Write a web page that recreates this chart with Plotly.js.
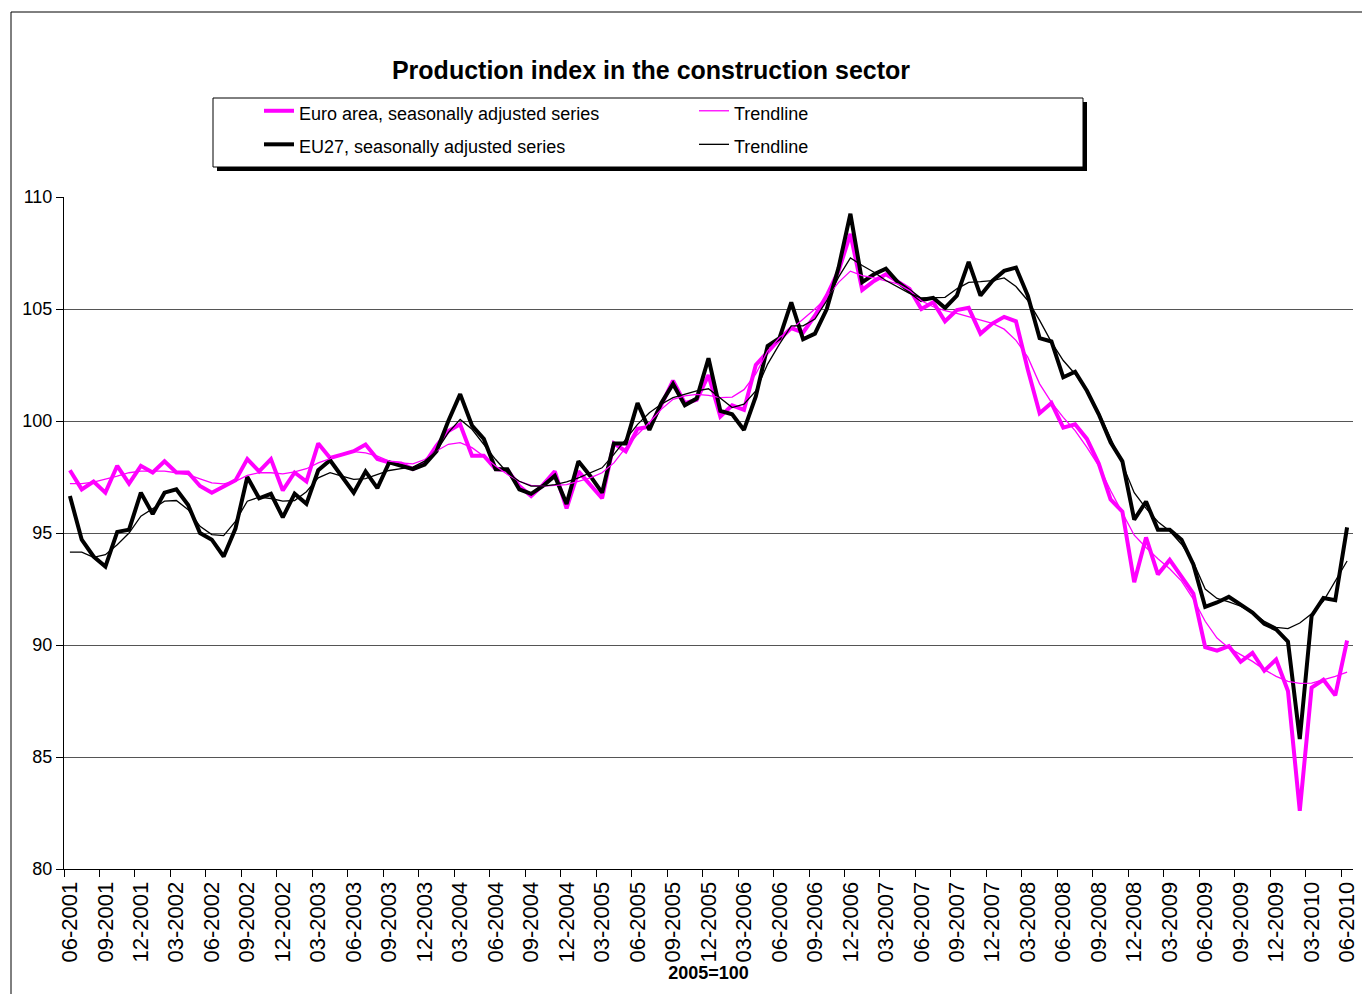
<!DOCTYPE html>
<html>
<head>
<meta charset="utf-8">
<script src="https://cdn.plot.ly/plotly-3.0.1.min.js"></script>
<style>
html,body{margin:0;padding:0;background:#fff;}
#chart{width:1362px;height:994px;}
</style>
</head>
<body>
<div id="chart"></div>
<script>
const months = [
"06-2001","07-2001","08-2001","09-2001","10-2001","11-2001","12-2001","01-2002","02-2002","03-2002","04-2002","05-2002",
"06-2002","07-2002","08-2002","09-2002","10-2002","11-2002","12-2002","01-2003","02-2003","03-2003","04-2003","05-2003",
"06-2003","07-2003","08-2003","09-2003","10-2003","11-2003","12-2003","01-2004","02-2004","03-2004","04-2004","05-2004",
"06-2004","07-2004","08-2004","09-2004","10-2004","11-2004","12-2004","01-2005","02-2005","03-2005","04-2005","05-2005",
"06-2005","07-2005","08-2005","09-2005","10-2005","11-2005","12-2005","01-2006","02-2006","03-2006","04-2006","05-2006",
"06-2006","07-2006","08-2006","09-2006","10-2006","11-2006","12-2006","01-2007","02-2007","03-2007","04-2007","05-2007",
"06-2007","07-2007","08-2007","09-2007","10-2007","11-2007","12-2007","01-2008","02-2008","03-2008","04-2008","05-2008",
"06-2008","07-2008","08-2008","09-2008","10-2008","11-2008","12-2008","01-2009","02-2009","03-2009","04-2009","05-2009",
"06-2009","07-2009","08-2009","09-2009","10-2009","11-2009","12-2009","01-2010","02-2010","03-2010","04-2010","05-2010",
"06-2010"];

const tickLabels = ["06-2001","09-2001","12-2001","03-2002","06-2002","09-2002","12-2002","03-2003","06-2003","09-2003",
"12-2003","03-2004","06-2004","09-2004","12-2004","03-2005","06-2005","09-2005","12-2005","03-2006","06-2006","09-2006",
"12-2006","03-2007","06-2007","09-2007","12-2007","03-2008","06-2008","09-2008","12-2008","03-2009","06-2009","09-2009",
"12-2009","03-2010","06-2010"];

const euroSA = [
97.8,96.95,97.3,96.8,98.0,97.2,98.0,97.7,98.2,97.7,97.7,97.1,
96.8,97.1,97.35,98.3,97.75,98.3,96.9,97.7,97.3,99.0,98.35,98.5,
98.65,98.95,98.3,98.15,98.1,97.85,98.1,98.9,99.55,99.85,98.45,98.45,
97.85,97.8,97.1,96.65,97.15,97.75,96.1,97.75,97.15,96.55,99.0,98.65,
99.65,99.75,100.7,101.8,100.8,100.95,102.05,100.2,100.7,100.5,102.5,103.1,
103.65,104.15,103.95,104.7,105.6,106.7,108.35,105.85,106.25,106.55,106.2,105.9,
105.0,105.3,104.45,104.95,105.05,103.9,104.35,104.65,104.45,102.3,100.35,100.8,
99.7,99.85,99.2,98.1,96.5,95.95,92.8,94.8,93.15,93.8,93.05,92.3,
89.9,89.75,89.95,89.25,89.65,88.85,89.35,87.95,82.6,88.1,88.45,87.75,
90.2];

const eu27SA = [
96.65,94.7,93.95,93.5,95.05,95.15,96.8,95.85,96.8,96.95,96.25,95.0,
94.7,93.95,95.2,97.5,96.55,96.75,95.7,96.75,96.3,97.8,98.25,97.55,
96.8,97.75,97.0,98.15,98.0,97.85,98.05,98.65,100.0,101.2,99.8,99.2,
97.85,97.85,96.95,96.75,97.1,97.55,96.3,98.2,97.55,96.8,99.0,99.0,
100.8,99.6,100.8,101.65,100.7,101.0,102.8,100.45,100.3,99.6,101.1,103.35,
103.7,105.3,103.65,103.9,105.0,106.85,109.25,106.2,106.55,106.8,106.2,105.8,
105.4,105.5,105.05,105.6,107.1,105.6,106.25,106.7,106.85,105.6,103.7,103.55,
101.95,102.2,101.35,100.3,99.05,98.2,95.6,96.4,95.15,95.15,94.7,93.6,
91.7,91.9,92.15,91.8,91.45,90.95,90.7,90.15,85.8,91.3,92.1,92.0,
95.25];

const euroTrend = [
97.2,97.2,97.27,97.39,97.54,97.69,97.76,97.76,97.76,97.69,97.61,97.42,
97.24,97.19,97.31,97.57,97.69,97.69,97.64,97.73,97.87,98.13,98.31,98.5,
98.63,98.58,98.43,98.21,98.13,98.09,98.28,98.66,98.96,99.03,98.81,98.43,
97.99,97.61,97.31,97.13,97.09,97.12,97.16,97.31,97.46,97.69,98.13,98.81,
99.4,99.93,100.52,100.97,101.12,101.19,101.14,101.04,101.07,101.4,102.1,103.13,
103.73,104.1,104.55,105.0,105.52,106.19,106.69,106.49,106.39,106.27,106.12,105.82,
105.37,105.1,104.93,104.8,104.66,104.51,104.36,104.1,103.6,102.85,101.66,100.83,
100.16,99.57,98.82,98.0,96.9,95.9,94.9,94.35,93.85,93.4,92.85,92.05,
91.06,90.31,89.87,89.57,89.27,88.9,88.6,88.38,88.29,88.3,88.45,88.6,
88.79];

const eu27Trend = [
94.15,94.15,93.91,94.03,94.48,95.0,95.75,96.09,96.42,96.45,96.04,95.3,
94.93,94.88,95.52,96.42,96.6,96.54,96.42,96.45,96.84,97.46,97.69,97.54,
97.39,97.43,97.61,97.79,97.87,97.94,98.21,98.66,99.48,100.07,99.63,98.96,
98.28,97.69,97.31,97.09,97.09,97.16,97.28,97.46,97.69,97.91,98.51,99.18,
99.85,100.37,100.75,101.04,101.19,101.34,101.44,101.04,100.6,100.75,101.34,102.54,
103.43,104.25,104.25,104.55,105.37,106.42,107.28,106.94,106.64,106.27,105.97,105.7,
105.49,105.49,105.52,105.9,106.19,106.22,106.27,106.39,106.0,105.38,104.49,103.52,
102.7,102.1,101.36,100.39,99.27,98.08,96.8,96.1,95.5,95.09,94.5,93.7,
92.5,92.08,91.93,91.73,91.43,91.06,90.79,90.73,90.98,91.39,91.96,92.85,
93.75];

const seriesNames = ["Euro area, seasonally adjusted series","Trendline","EU27, seasonally adjusted series","Trendline"];

const xIdx = months.map((m, i) => i);
const tickIdx = tickLabels.map(l => months.indexOf(l));
const boundaryTicks = tickIdx.map(i => i - 0.5);

const FONT = "Liberation Sans, Arial, sans-serif";
const lg = t => '<span style="font-size:18px">' + t + '</span>';

const traces = [
  {x: xIdx, y: euroSA, name: lg(seriesNames[0]), type: 'scatter', mode: 'lines',
   line: {color: '#FF00FF', width: 4}, legendrank: 1},
  {x: xIdx, y: eu27SA, name: lg(seriesNames[2]), type: 'scatter', mode: 'lines',
   line: {color: '#000000', width: 4}, legendrank: 3},
  {x: xIdx, y: euroTrend, name: lg(seriesNames[1]), type: 'scatter', mode: 'lines',
   line: {color: '#FF00FF', width: 1.3}, legendrank: 2},
  {x: xIdx, y: eu27Trend, name: lg(seriesNames[3]), type: 'scatter', mode: 'lines',
   line: {color: '#000000', width: 1.3}, legendrank: 4}
];

const L = 64, R = 9, T = 197, B = 125, W = 1362, H = 994;
const pw = W - L - R, ph = H - T - B;
const px2x = p => (p - L) / pw;
const py2y = p => (H - B - p) / ph;

const layout = {
  width: W, height: H,
  margin: {l: L, r: R, t: T, b: B, autoexpand: false},
  paper_bgcolor: '#fff', plot_bgcolor: '#fff',
  font: {family: FONT, color: '#000', size: 17},
  title: {text: '<b>Production index in the construction sector</b>', font: {family: FONT, size: 25, color: '#000'},
          xref: 'container', yref: 'container', x: 651 / W, y: 1 - 70 / H, xanchor: 'center', yanchor: 'middle'},
  showlegend: true,
  legend: {orientation: 'h', x: px2x(259), y: py2y(89), xanchor: 'left', yanchor: 'top',
           bgcolor: 'rgba(0,0,0,0)', borderwidth: 0, entrywidth: 390, itemwidth: 30,
           font: {family: FONT, size: 23.5, color: '#000'}, traceorder: 'normal'},
  xaxis: {range: [-0.5, 108.5], tickmode: 'array', tickvals: tickIdx, ticktext: tickLabels,
          tickangle: -90, ticks: '', showgrid: false, zeroline: false,
          showline: true, linecolor: '#000', linewidth: 1, ticklabelstandoff: 3,
          tickfont: {family: FONT, size: 22, color: '#000'},
          minor: {tickmode: 'array', tickvals: boundaryTicks, ticks: 'outside', ticklen: 7, tickcolor: '#000', tickwidth: 1, showgrid: false},
          title: {text: '<b>2005=100</b>', font: {family: FONT, size: 18, color: '#000'}, standoff: 0},
          automargin: false, fixedrange: true},
  yaxis: {range: [80, 110], dtick: 5, tick0: 80, ticks: 'outside', ticklen: 7, tickcolor: '#000',
          showline: true, linecolor: '#000', linewidth: 1, showgrid: true, gridcolor: '#555', gridwidth: 1,
          zeroline: false, tickfont: {family: FONT, size: 18, color: '#000'}, automargin: false, fixedrange: true},
  shapes: [
    {type: 'line', xref: 'paper', yref: 'paper', x0: px2x(11), x1: px2x(11), y0: py2y(12), y1: py2y(1000), line: {color: '#000', width: 1}},
    {type: 'line', xref: 'paper', yref: 'paper', x0: px2x(11), x1: px2x(1370), y0: py2y(12), y1: py2y(12), line: {color: '#000', width: 1}},
    {type: 'rect', xref: 'paper', yref: 'paper', layer: 'above', x0: px2x(217), x1: px2x(1087), y0: py2y(171), y1: py2y(102), fillcolor: '#000', line: {width: 0}},
    {type: 'rect', xref: 'paper', yref: 'paper', layer: 'above', x0: px2x(213), x1: px2x(1083), y0: py2y(167), y1: py2y(98), fillcolor: '#fff', line: {color: '#000', width: 1}}
  ]
};

Plotly.newPlot('chart', traces, layout, {displayModeBar: false, staticPlot: true});
</script>
</body>
</html>
